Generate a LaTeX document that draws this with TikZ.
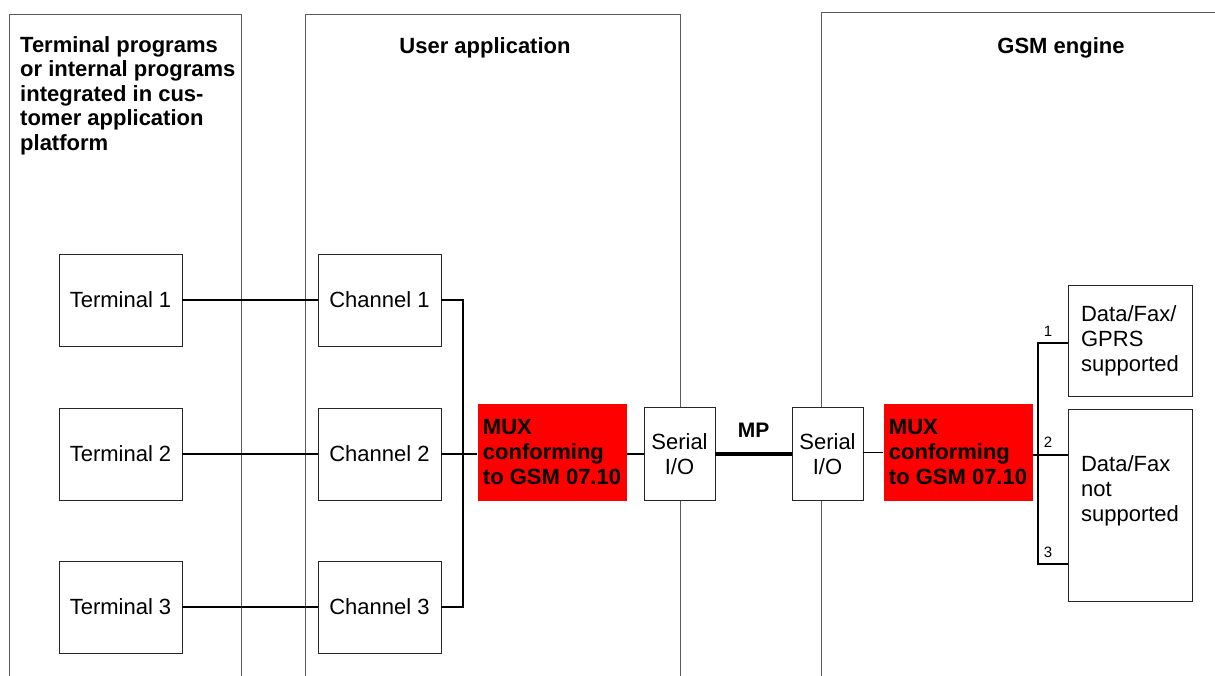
\documentclass[tikz,border=0pt]{standalone}
\usepackage{fontspec}
\setmainfont{Liberation Sans}
\usetikzlibrary{calc}
\definecolor{muxred}{RGB}{255,0,0}
\definecolor{frame}{RGB}{90,90,90}

\tikzset{
	box/.style={draw=black!85, line width=0.8pt, fill=white, font=\fontsize{22}{25}\selectfont, align=center, inner sep=1pt},
	termbox/.style={box, minimum width=123pt, minimum height=92pt},
	serbox/.style={box, minimum width=71pt, minimum height=93pt},
	muxbox/.style={fill=muxred, minimum width=149pt, minimum height=97pt, align=left, inner sep=0pt, font=\fontsize{22}{25}\selectfont\bfseries},
	title/.style={font=\fontsize{22}{24.5}\selectfont\bfseries},
	chan/.style={font=\fontsize{15}{17}\selectfont, inner sep=0pt},
	wire/.style={line width=1.1pt}
}

\begin{document}
\begin{tikzpicture}[x=1pt, y=-1pt]

	\useasboundingbox (0,0) rectangle (1215,676);

	% the three open columns
	\draw[frame, line width=0.8pt] (9,676) |- (241,14) -- (241,676);
	\draw[frame, line width=0.8pt] (305,676) |- (680,14) -- (680,676);
	\draw[frame, line width=0.8pt] (821,676) |- (1215,12);

	\node[title, align=left, anchor=north west, inner sep=0pt] (ttl) at (20,36) {Terminal programs\\or internal programs\\integrated in cus-\\tomer application\\platform};
	\node[title] (uttl) at (485,48) {User application};
	\node[title] (gttl) at (1061,48) {GSM engine};

	% terminals and channels
	\foreach \i/\y in {1/300,2/454,3/607}{
		\node[termbox] (t\i) at (120.5,\y) {Terminal \i};
		\node[termbox] (ch\i) at (379.5,\y) {Channel \i};
		\draw[wire] (t\i) -- (ch\i);
	}

	\node[muxbox] (muxa) at (552,452.5) {MUX\\conforming\\to GSM 07.10};
	\node[serbox] (sera) at (679.5,454) {Serial\\I/O};
	\node[serbox] (serb) at (827.5,454) {Serial\\I/O};
	\node[muxbox] (muxb) at (958,452.5) {MUX\\conforming\\to GSM 07.10};

	\node[box, minimum width=124pt, minimum height=111pt] (dgprs) at (1130,340.5) {};
	\node[font=\fontsize{22}{25}\selectfont, align=left] (dgprstxt) at (dgprs.center) {Data/Fax/\\GPRS\\supported};
	\node[box, minimum width=124pt, minimum height=192pt] (dnot) at (1130,505) {};
	\node[font=\fontsize{22}{25}\selectfont, align=left] (dnottxt) at ([yshift=14pt]dnot.center) {Data/Fax\\not\\supported};

	% user side bus
	\coordinate (busa) at (463,454);
	\draw[wire] (ch1.east) -| (busa) |- (ch3.east);
	\draw[wire] (ch2) -- (ch2 -| muxa.west);
	\draw[wire] (muxa.east |- sera) -- (sera);

	% multiplexer protocol
	\draw[line width=3.2pt] (sera) -- (serb) node[midway, above=12pt, font=\fontsize{21}{24}\selectfont\bfseries] (mp) {MP};

	% engine side bus
	\draw[wire] (serb.east |- muxb) -- (muxb);
	\coordinate (busb) at (1038,455);
	\draw[wire] (dgprs.west |- 0,343) -| (busb) |- (dnot.west |- 0,564);
	\draw[wire] (muxb.east |- busb) -- (dnot.west |- busb);

	\node[chan] (n1) at (1048,331) {1};
	\node[chan] (n2) at (1048,442) {2};
	\node[chan] (n3) at (1048,552) {3};

\end{tikzpicture}
\end{document}
